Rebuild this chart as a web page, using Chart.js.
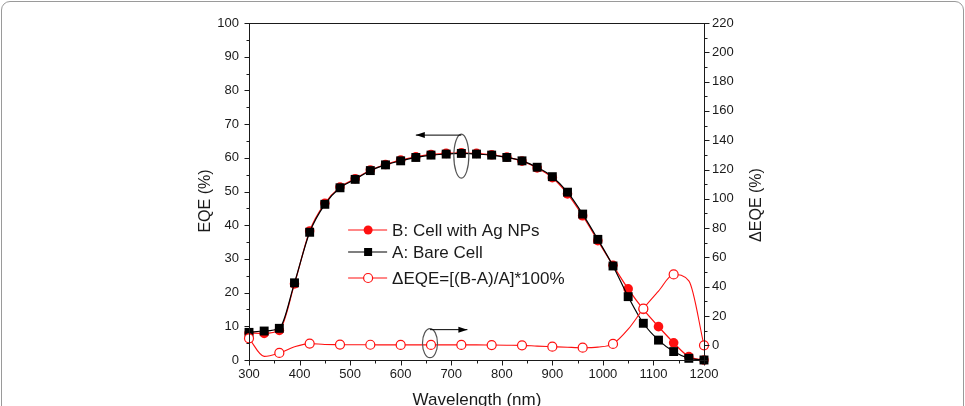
<!DOCTYPE html>
<html lang="en">
<head>
<meta charset="UTF-8">
<title>EQE</title>
<script src="https://cdn.jsdelivr.net/npm/chart.js"></script>
<style>
    body { margin: 0; background: #fff; overflow: hidden; }
    .frame { position: absolute; left: 1px; top: 1px; width: 961px; height: 440px; border: 1px solid #9a9a9a; border-radius: 9px; }
    .wrap { position: absolute; left: 0; top: 0; width: 965px; height: 406px; }
</style>
</head>
<body>
<div class="frame"></div>
<div class="wrap"><canvas id="eqeChart"></canvas></div>
<script>
// Data
const wavelengths = [300, 330, 360, 390, 420, 450, 480, 510, 540, 570, 600, 630, 660, 690, 720, 750,
                     780, 810, 840, 870, 900, 930, 960, 990, 1020, 1050, 1080, 1110, 1140, 1170, 1200];
const eqeBare = [8.2, 8.6, 9.4, 22.9, 37.9, 46.2, 51.1, 53.6, 56.2, 57.9, 59.1, 60.1, 60.8, 61.1, 61.3, 61.1,
                 60.8, 60.1, 59.1, 57.2, 54.4, 49.8, 43.3, 35.8, 27.9, 18.8, 10.9, 5.9, 2.5, 0.5, 0];
const eqeAg = [8.0, 7.9, 8.8, 22.6, 38.3, 46.5, 51.3, 53.8, 56.4, 58.0, 59.3, 60.3, 61.0, 61.3, 61.5, 61.3,
               60.9, 60.2, 59.0, 57.0, 54.1, 49.3, 42.8, 35.4, 28.1, 21.1, 15.0, 9.9, 5.1, 1.0, 0];
const deltaEqe = [4.8, -7.5, -5.2, -1.0, 1.2, 0.6, 0.5, 0.4, 0.4, 0.3, 0.3, 0.3, 0.3, 0.3, 0.3, 0.3,
                  0.2, 0.1, 0.0, -0.5, -0.9, -1.3, -1.6, -1.2, 1.0, 11, 25, 37, 48.4, 44, 0];
const leftTicks = [0, 10, 20, 30, 40, 50, 60, 70, 80, 90, 100];
const rightTicks = [0, 20, 40, 60, 80, 100, 120, 140, 160, 180, 200, 220];
const bottomTicks = [300, 400, 500, 600, 700, 800, 900, 1000, 1100, 1200];
const legendLabels = ['B: Cell with Ag NPs', 'A: Bare Cell', '\u0394EQE=[(B-A)/A]*100%'];

const FONT = '"Liberation Sans", Arial, Helvetica, sans-serif';
const INK = '#1a1a1a';
const RED = '#ff1010';

const pts = arr => wavelengths.map((w, i) => ({ x: w, y: arr[i] }));

// frame, ticks, titles, legend and the two arrow marks
const extras = {
    id: 'extras',
    afterDraw(chart) {
        const { ctx, chartArea: a, scales } = chart;
        const x = scales.x, y = scales.y, y2 = scales.y2;
        const L = Math.round(a.left) + 0.5, R = Math.round(a.right) + 0.5;
        const T = Math.round(a.top) + 0.5, B = Math.round(a.bottom) + 0.5;
        ctx.save();
        ctx.strokeStyle = INK;
        ctx.lineWidth = 1;
        ctx.strokeRect(L, T, R - L, B - T);
        const line = (x1, y1, x2, y2) => { ctx.beginPath(); ctx.moveTo(x1, y1); ctx.lineTo(x2, y2); ctx.stroke(); };
        for (let v = 0; v <= 100; v += 5) {
            const p = Math.round(y.getPixelForValue(v)) + 0.5;
            line(L - (v % 10 === 0 ? 5 : 3), p, L, p);
        }
        for (let v = -10; v <= 220; v += 10) {
            const p = Math.round(y2.getPixelForValue(v)) + 0.5;
            line(R, p, R + (v % 20 === 0 ? 5 : 3), p);
        }
        for (let v = 300; v <= 1200; v += 50) {
            const p = Math.round(x.getPixelForValue(v)) + 0.5;
            line(p, B, p, B + (v % 100 === 0 ? 5 : 3));
        }

        // axis titles
        ctx.fillStyle = INK;
        ctx.textAlign = 'center';
        ctx.textBaseline = 'middle';
        ctx.font = '16px ' + FONT;
        ctx.save(); ctx.translate(206, 201); ctx.rotate(-Math.PI / 2); ctx.fillText('EQE (%)', 0, 0); ctx.restore();
        ctx.save(); ctx.translate(757, 205); ctx.rotate(-Math.PI / 2); ctx.fillText('\u0394EQE (%)', 0, 0); ctx.restore();
        ctx.font = '17px ' + FONT;
        ctx.textBaseline = 'alphabetic';
        ctx.fillText('Wavelength (nm)', (L + R) / 2, 405);

        // legend
        const lx = x.getPixelForValue(500), rows = [230, 252, 278];
        ctx.font = '17px ' + FONT;
        ctx.textAlign = 'left';
        ctx.textBaseline = 'middle';
        rows.forEach((ry, i) => {
            ctx.strokeStyle = i === 1 ? '#000' : RED;
            ctx.lineWidth = 1.2;
            line(lx - 2, ry, lx + 37, ry);
            const mx = lx + 18;
            ctx.beginPath();
            if (i === 0) { ctx.fillStyle = RED; ctx.arc(mx, ry, 4.5, 0, Math.PI * 2); ctx.fill(); }
            if (i === 1) { ctx.fillStyle = '#000'; ctx.fillRect(mx - 4, ry - 4, 8, 8); }
            if (i === 2) { ctx.fillStyle = '#fff'; ctx.arc(mx, ry, 4.5, 0, Math.PI * 2); ctx.fill(); ctx.stroke(); }
            ctx.fillStyle = INK;
            ctx.fillText(legendLabels[i], lx + 42, ry + 1);
        });

        // ellipse + arrow marks
        const mark = (cx, cy, rx, ry, toX, dir) => {
            ctx.strokeStyle = '#555';
            ctx.lineWidth = 1.2;
            ctx.beginPath(); ctx.ellipse(cx, cy, rx, ry, 0, 0, Math.PI * 2); ctx.stroke();
            const ay = cy - ry + 1;
            ctx.strokeStyle = '#000';
            ctx.lineWidth = 1;
            line(cx, ay, toX, ay);
            ctx.fillStyle = '#000';
            ctx.beginPath();
            ctx.moveTo(toX, ay);
            ctx.lineTo(toX - dir * 9, ay - 3);
            ctx.lineTo(toX - dir * 9, ay + 3);
            ctx.closePath();
            ctx.fill();
        };
        mark(x.getPixelForValue(720), y.getPixelForValue(60.5), 7.5, 22, x.getPixelForValue(630), -1);
        mark(x.getPixelForValue(658), y.getPixelForValue(5), 7.5, 14.5, x.getPixelForValue(732), 1);
        ctx.restore();
    }
};

const tickFont = { family: FONT, size: 13 };
const plain = v => String(v);

new Chart(document.getElementById('eqeChart'), {
    type: 'line',
    data: {
        datasets: [
            {
                label: legendLabels[2],
                data: pts(deltaEqe),
                yAxisID: 'y2',
                borderColor: RED,
                borderWidth: 1.1,
                backgroundColor: '#fff',
                pointBorderColor: RED,
                pointBorderWidth: 1.2,
                pointRadius: wavelengths.map((w, i) => i % 2 === 0 ? 4.5 : 0),
                cubicInterpolationMode: 'monotone',
                clip: false,
                order: 0
            },
            {
                label: legendLabels[1],
                data: pts(eqeBare),
                yAxisID: 'y',
                borderColor: '#000',
                borderWidth: 1.2,
                backgroundColor: '#000',
                pointStyle: 'rect',
                pointRadius: 6.3,
                pointBorderWidth: 0,
                cubicInterpolationMode: 'monotone',
                clip: false,
                order: 1
            },
            {
                label: legendLabels[0],
                data: pts(eqeAg),
                yAxisID: 'y',
                borderColor: RED,
                borderWidth: 1.2,
                backgroundColor: RED,
                pointRadius: 4.8,
                pointBorderWidth: 0,
                cubicInterpolationMode: 'monotone',
                clip: false,
                order: 2
            }
        ]
    },
    options: {
        responsive: true,
        maintainAspectRatio: false,
        animation: false,
        layout: { padding: { top: 23, left: 0, right: 0, bottom: 0 } },
        plugins: { legend: { display: false }, tooltip: { enabled: false } },
        scales: {
            x: {
                type: 'linear', min: 300, max: 1200,
                afterBuildTicks: s => { s.ticks = bottomTicks.map(v => ({ value: v })); },
                ticks: { font: tickFont, color: INK, padding: 7, maxRotation: 0, callback: plain },
                grid: { display: false, drawTicks: false },
                border: { display: false },
                afterFit: s => { s.height = 46; }
            },
            y: {
                position: 'left', min: 0, max: 100,
                afterBuildTicks: s => { s.ticks = leftTicks.map(v => ({ value: v })); },
                ticks: { font: tickFont, color: INK, padding: 10, callback: plain },
                grid: { display: false, drawTicks: false },
                border: { display: false },
                afterFit: s => { s.width = 249; }
            },
            y2: {
                position: 'right', min: -10, max: 220,
                afterBuildTicks: s => { s.ticks = rightTicks.map(v => ({ value: v })); },
                ticks: { font: tickFont, color: INK, padding: 8, callback: plain },
                grid: { display: false, drawTicks: false },
                border: { display: false },
                afterFit: s => { s.width = 261; }
            }
        }
    },
    plugins: [extras]
});
</script>
</body>
</html>
